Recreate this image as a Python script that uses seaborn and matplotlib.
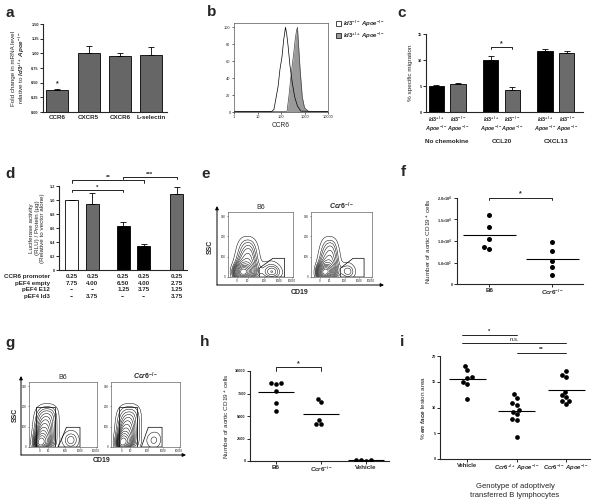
import numpy as np
import pandas as pd
import matplotlib
matplotlib.use("Agg")
import matplotlib.pyplot as plt
import seaborn as sns
from matplotlib.patches import Polygon, Patch

sns.set_style("ticks")
plt.rcParams['font.family'] = ['Liberation Sans', 'DejaVu Sans']
plt.rcParams['font.weight'] = 'bold'
plt.rcParams['mathtext.fontset'] = 'custom'
plt.rcParams['mathtext.rm'] = 'Liberation Sans:bold'
plt.rcParams['mathtext.it'] = 'Liberation Sans:italic:bold'
plt.rcParams['mathtext.bf'] = 'Liberation Sans:bold'
plt.rcParams['axes.linewidth'] = 0.8

W, H = 600, 504

# ---- data ----
# a: qPCR
a_genes = ["CCR6", "CXCR5", "CXCR6", "L-selectin"]
a_fold = [0.37, 1.01, 0.96, 0.98]
a_sem = [0.03, 0.12, 0.05, 0.13]

# b: flow histogram (CCR6)
b_x_ko = [1, 40, 50, 60, 75, 90, 110, 130, 155, 175, 200, 240, 300, 380, 500, 700, 10000]
b_y_ko = [0.5, 0.5, 3, 15, 30, 50, 65, 85, 100, 92, 78, 55, 35, 18, 7, 1, 0.5]
b_x_wt = [1, 180, 220, 260, 300, 350, 400, 450, 500, 560, 650, 800, 1000, 1500, 10000]
b_y_wt = [0.5, 0.5, 20, 40, 55, 70, 85, 95, 100, 78, 50, 18, 5, 0.5, 0.5]

# c: migration
c_groups = ["No chemokine", "CCL20", "CXCL13"]
c_wt = [5.0, 10.0, 11.8]
c_ko = [5.3, 4.3, 11.4]
c_wt_sem = [0.25, 0.8, 0.35]
c_ko_sem = [0.25, 0.45, 0.35]

# d: luciferase
d_luc = [1.0, 0.95, 0.63, 0.35, 1.08]
d_sem = [0.0, 0.15, 0.05, 0.02, 0.11]
d_colors = ["white", "#6b6b6b", "black", "black", "#6b6b6b"]
d_rows = ["CCR6 promoter", "pEF4 empty", "pEF4 E12", "pEF4 Id3"]
d_table = [["0.25", "0.25", "0.25", "0.25", "0.25"],
           ["7.75", "4.00", "6.50", "4.00", "2.75"],
           ["--", "--", "1.25", "3.75", "1.25"],
           ["--", "3.75", "--", "--", "3.75"]]

# flow event densities (CD19 channel 0..1, SSC)
# main (non-B) population: cols u = 0.04, 0.09 .. 0.54 ; rows SSC = 200, 180 .. 0
main_u = np.linspace(0.04, 0.54, 11)
main_ssc = np.arange(200, -1, -20)
e_main = [[0, 0, 0, 0.1, 0.2, 0.2, 0.2, 0.1, 0, 0, 0],
          [0, 0, 0, 0.3, 0.5, 0.6, 0.6, 0.4, 0.1, 0, 0],
          [0, 0, 0.1, 0.5, 0.8, 1.0, 1.0, 0.7, 0.2, 0, 0],
          [0, 0, 0.2, 0.7, 1.0, 1.3, 1.3, 0.9, 0.3, 0.1, 0],
          [0, 0, 0.3, 0.9, 1.3, 1.6, 1.6, 1.1, 0.4, 0.1, 0],
          [0, 0.1, 0.4, 1.1, 1.6, 1.9, 1.8, 1.2, 0.5, 0.2, 0],
          [0, 0.1, 0.6, 1.5, 2.0, 2.2, 2.0, 1.4, 0.6, 0.2, 0],
          [0, 0.2, 1.0, 2.5, 3.0, 3.0, 2.5, 1.6, 0.7, 0.3, 0.1],
          [0, 0.4, 3.0, 6.0, 7.0, 6.0, 4.0, 2.0, 0.8, 0.3, 0.1],
          [0, 0.5, 4.0, 8.0, 9.0, 7.0, 4.0, 2.0, 0.8, 0.3, 0.1],
          [0, 0.3, 2.0, 4.0, 4.0, 3.0, 2.0, 1.0, 0.4, 0.2, 0]]
g_main = [[0, 0, 0.2, 0.4, 0.5, 0.5, 0.4, 0.2, 0, 0, 0],
          [0, 0.1, 0.6, 1.0, 1.2, 1.2, 1.0, 0.5, 0.1, 0, 0],
          [0, 0.2, 1.0, 1.5, 1.7, 1.7, 1.4, 0.7, 0.1, 0, 0],
          [0, 0.3, 1.3, 1.9, 2.1, 2.0, 1.6, 0.8, 0.1, 0, 0],
          [0, 0.4, 1.6, 2.3, 2.4, 2.2, 1.7, 0.8, 0.1, 0, 0],
          [0, 0.5, 2.0, 2.7, 2.7, 2.4, 1.8, 0.8, 0.1, 0, 0],
          [0, 0.6, 2.5, 3.2, 3.0, 2.6, 1.8, 0.8, 0.1, 0, 0],
          [0, 0.8, 3.5, 4.0, 3.5, 2.8, 1.8, 0.8, 0.1, 0, 0],
          [0, 1.2, 5.5, 5.5, 4.5, 3.0, 1.8, 0.8, 0.1, 0, 0],
          [0, 1.5, 8.0, 7.0, 5.0, 3.0, 1.6, 0.7, 0.1, 0, 0],
          [0, 1.0, 5.0, 4.0, 3.0, 1.8, 1.0, 0.4, 0.1, 0, 0]]
# B-cell population: cols u = 0.5, 0.55 .. 0.9 ; rows SSC = 100, 80 .. 0
bc_u = np.linspace(0.5, 0.9, 9)
bc_ssc = np.arange(100, -1, -20)
e_bc_b6 = [[0, 0, 0, 0, 0, 0, 0, 0, 0],
           [0, 0.1, 0.2, 0.2, 0.2, 0.1, 0, 0, 0],
           [0.1, 0.2, 0.4, 0.5, 0.5, 0.3, 0.1, 0, 0],
           [0.2, 0.4, 0.9, 1.3, 1.3, 0.8, 0.3, 0.1, 0],
           [0.2, 0.5, 1.1, 1.6, 1.6, 1.1, 0.5, 0.1, 0],
           [0, 0.2, 0.5, 0.6, 0.6, 0.4, 0.2, 0, 0]]
e_bc_ko = [[0, 0, 0, 0, 0, 0, 0, 0, 0],
           [0, 0.1, 0.1, 0.1, 0, 0, 0, 0, 0],
           [0.1, 0.3, 0.4, 0.3, 0.1, 0, 0, 0, 0],
           [0.3, 0.8, 1.1, 0.9, 0.4, 0.1, 0, 0, 0],
           [0.3, 0.9, 1.3, 1.1, 0.5, 0.1, 0, 0, 0],
           [0.1, 0.3, 0.5, 0.4, 0.2, 0, 0, 0, 0]]
g_bc_b6 = [[0, 0, 0, 0, 0, 0, 0, 0, 0],
           [0, 0.1, 0.2, 0.2, 0.1, 0, 0, 0, 0],
           [0.1, 0.4, 0.7, 0.6, 0.3, 0, 0, 0, 0],
           [0.2, 0.9, 1.6, 1.4, 0.6, 0.1, 0, 0, 0],
           [0.2, 0.8, 1.3, 1.1, 0.4, 0.1, 0, 0, 0],
           [0, 0.2, 0.4, 0.4, 0.1, 0, 0, 0, 0]]
g_bc_ko = [[0, 0, 0, 0, 0, 0, 0, 0, 0],
           [0, 0, 0.1, 0.1, 0.1, 0, 0, 0, 0],
           [0, 0.2, 0.4, 0.4, 0.2, 0, 0, 0, 0],
           [0.1, 0.5, 0.9, 0.9, 0.4, 0.1, 0, 0, 0],
           [0.1, 0.4, 0.8, 0.7, 0.3, 0, 0, 0, 0],
           [0, 0.1, 0.3, 0.2, 0.1, 0, 0, 0, 0]]
flow_xticks = ["0", "10", "100", "1000", "10000"]

# f: aortic CD19+ cells
f_b6 = [15950, 13230, 10350, 8250, 8720]
f_ko = [9730, 7700, 5370, 3970, 2100]

# h: aortic CD19+ cells, transfer
h_b6 = [8620, 8600, 8640, 7810, 6470, 5610]
h_ko = [6910, 6540, 4610, 4130, 4130]
h_veh = [80, 60, 50, 90]

# i: en face lesion area
i_veh = [18.1, 17.3, 15.9, 15.7, 15.0, 14.6, 11.6]
i_wt = [12.6, 11.9, 10.8, 10.5, 9.2, 9.5, 8.7, 7.8, 7.5, 4.2]
i_ko = [17.0, 16.4, 15.9, 12.4, 13.0, 12.1, 11.3, 11.2, 10.6]


def box(l, t, r, b):
    return [l / W, 1 - b / H, (r - l) / W, (b - t) / H]


def bracket(ax, x1, x2, y, h, text, fs=5):
    ax.plot([x1, x1, x2, x2], [y - h, y, y, y - h], color='black', lw=0.6, clip_on=False)
    ax.text((x1 + x2) / 2, y, text, ha='center', va='bottom', fontsize=fs, clip_on=False)


def prism(ax, lab=2.8):
    sns.despine(ax=ax)
    ax.set_facecolor('none')
    ax.tick_params(labelsize=lab, width=0.7, length=2, pad=1)


fig = plt.figure(figsize=(6, 5.04), dpi=100)
ov = fig.add_axes([0, 0, 1, 1])
ov.set_xlim(0, W)
ov.set_ylim(H, 0)
ov.axis('off')

for letter, (lx, ly) in zip("abcdefghi", [(10, 13), (212, 12), (402, 13), (10, 174), (206, 174),
                                            (403, 172), (10, 343), (205, 342), (402, 342)]):
    ov.text(lx, ly, letter, fontsize=11, ha='center', va='center')

# ---- a ----
ax = fig.add_axes(box(43, 24, 167, 112))
sns.barplot(x=a_genes, y=a_fold, color="#666666", edgecolor="black", linewidth=0.6,
            width=0.7, ax=ax)
ax.errorbar(range(len(a_fold)), a_fold, yerr=[np.zeros(len(a_sem)), a_sem], fmt='none',
            ecolor='black', elinewidth=0.6, capsize=2.5, capthick=0.6)
ax.text(0, a_fold[0] + a_sem[0] + 0.02, "*", ha='center', va='bottom', fontsize=5)
ax.set_xlim(-0.45, 3.5)
ax.set_ylim(0, 1.5)
ax.set_yticks([0, 0.25, 0.5, 0.75, 1.0, 1.25, 1.5])
ax.set_yticklabels(["0.00", "0.25", "0.50", "0.75", "1.00", "1.25", "1.50"])
prism(ax)
ax.tick_params(axis='x', labelsize=4.5, length=0, pad=2)
ax.set_ylabel("Fold change in mRNA level\nrelative to $\\mathit{Id3}^{+/+}\\ \\mathit{Apoe}^{-/-}$",
              fontsize=4.5, labelpad=3, linespacing=1.1)

# ---- b ----
ax = fig.add_axes(box(234, 23, 328, 112))
ax.set_xscale('log')
ax.fill_between(b_x_wt, b_y_wt, color="#9a9a9a", lw=0)
sns.lineplot(x=b_x_wt, y=b_y_wt, color="#444444", lw=0.5, ax=ax)
sns.lineplot(x=b_x_ko, y=b_y_ko, color="black", lw=0.5, ax=ax)
ax.set_xlim(1, 10000)
ax.set_ylim(0, 105)
ax.set_yticks([0, 20, 40, 60, 80, 100])
ax.set_xticks([1, 10, 100, 1000, 10000])
ax.set_xticklabels(["1", "10", "100", "1000", "10000"])
ax.minorticks_off()
ax.set_facecolor('none')
for s in ax.spines.values():
    s.set_linewidth(0.5)
    s.set_color("#555555")
ax.tick_params(labelsize=2.8, width=0.5, length=1.5, pad=1)
for t in ax.get_xticklabels() + ax.get_yticklabels():
    t.set_fontweight('normal')
ax.set_xlabel("CCR6", fontsize=4.8, labelpad=2)
ax.legend(handles=[Patch(facecolor='white', edgecolor='black', lw=0.5,
                         label="$\\mathit{Id3}^{-/-}\\ \\mathit{Apoe}^{-/-}$"),
                   Patch(facecolor='#9a9a9a', edgecolor='black', lw=0.5,
                         label="$\\mathit{Id3}^{+/+}\\ \\mathit{Apoe}^{-/-}$")],
          loc='upper left', bbox_to_anchor=(1.06, 1.08), frameon=False, fontsize=4.3,
          handlelength=0.8, handleheight=0.8, handletextpad=0.4, labelspacing=0.3,
          borderaxespad=0)

# ---- c ----
ax = fig.add_axes(box(426, 34, 583, 112))
c_df = pd.DataFrame({"group": c_groups * 2,
                     "geno": ["wt"] * 3 + ["ko"] * 3,
                     "pct": c_wt + c_ko})
sns.barplot(data=c_df, x="group", y="pct", hue="geno", hue_order=["wt", "ko"],
            palette=["black", "#6b6b6b"], width=0.8, gap=0.3, edgecolor="black",
            linewidth=0.6, errorbar=None, legend=False, ax=ax)
bars = sorted(ax.patches, key=lambda p: p.get_x())
c_vals = [v for pair in zip(c_wt, c_ko) for v in pair]
c_errs = [v for pair in zip(c_wt_sem, c_ko_sem) for v in pair]
c_pos = [p.get_x() + p.get_width() / 2 for p in bars]
ax.errorbar(c_pos, c_vals, yerr=[np.zeros(len(c_errs)), c_errs], fmt='none', ecolor='black',
            elinewidth=0.6, capsize=2.5, capthick=0.6)
ax.set_xlim(-0.39, 2.5)
ax.set_ylim(0, 15)
ax.set_yticks([0, 5, 10, 15])
prism(ax)
ax.set_xlabel("")
ax.set_xticks(c_pos)
ax.set_xticklabels(["$\\mathit{Id3}^{+/+}$\n$\\mathit{Apoe}^{-/-}$",
                    "$\\mathit{Id3}^{-/-}$\n$\\mathit{Apoe}^{-/-}$"] * 3,
                   fontsize=4.0, linespacing=1.0)
ax.tick_params(axis='x', length=0, pad=2)
for i, g in enumerate(c_groups):
    ax.text(i, -0.38, g, transform=ax.get_xaxis_transform(), ha='center', va='center',
            fontsize=4.6)
ax.set_ylabel("% specific migration", fontsize=4.6, labelpad=3)
bracket(ax, c_pos[2], c_pos[3], 12.5, 0.4, "*", fs=5)

# ---- d ----
ax = fig.add_axes(box(59, 186, 187, 270))
d_pos = [0, 1, 2.5, 3.5, 5.1]
ax.bar(d_pos, d_luc, width=0.63, color=d_colors, edgecolor='black', linewidth=0.6)
ax.errorbar(d_pos, d_luc, yerr=[np.zeros(len(d_sem)), d_sem], fmt='none', ecolor='black',
            elinewidth=0.6, capsize=2.5, capthick=0.6)
ax.set_xlim(-0.63, 5.6)
ax.set_ylim(0, 1.2)
ax.set_yticks([0, 0.2, 0.4, 0.6, 0.8, 1.0, 1.2])
ax.set_yticklabels(["0", "0.2", "0.4", "0.6", "0.8", "1.0", "1.2"])
prism(ax)
ax.set_xticks([])
ax.set_ylabel("Luciferase activity\n(RLU) / Protein (\u00b5g)\n(Relative to vector alone)",
              fontsize=4.5, labelpad=3, linespacing=1.1)
tr = ax.get_xaxis_transform()
for r, (row, vals) in enumerate(zip(d_rows, d_table)):
    yy = -0.075 - 0.08 * r
    ax.text(-0.07, yy, row, transform=ax.transAxes, ha='right', va='center', fontsize=4.5)
    for x, v in zip(d_pos, vals):
        ax.text(x, yy, v, transform=tr, ha='center', va='center', fontsize=4.5)
bracket(ax, d_pos[0], d_pos[2], 1.14, 0.03, "*", fs=4.5)
bracket(ax, d_pos[0], d_pos[3], 1.28, 0.03, "**", fs=4.5)
bracket(ax, d_pos[2], d_pos[4], 1.33, 0.03, "***", fs=4.5)


# ---- flow contour plots (e, g) ----
def flow(rect, main, bcell, title, gates, tick_u):
    ax = fig.add_axes(box(*rect))
    mu, ms = np.meshgrid(main_u, main_ssc)
    bu, bs = np.meshgrid(bc_u, bc_ssc)
    xs = np.concatenate([mu.ravel(), bu.ravel()])
    ys = np.concatenate([ms.ravel(), bs.ravel()])
    ws = np.concatenate([np.ravel(main), np.ravel(bcell)])
    sns.kdeplot(x=xs, y=ys, weights=ws, levels=14, thresh=0.04, color='black',
                linewidths=0.35, bw_adjust=0.6, ax=ax)
    for gate in gates:
        ax.add_patch(Polygon(gate, closed=True, fill=False, edgecolor='black', lw=0.5))
    ax.set_xlim(0, 1)
    ax.set_ylim(0, 320)
    ax.set_xticks(tick_u)
    ax.set_xticklabels(flow_xticks)
    ax.set_yticks([0, 100, 200, 300])
    ax.set_xlabel("")
    ax.set_ylabel("")
    ax.set_facecolor('none')
    for s in ax.spines.values():
        s.set_linewidth(0.5)
        s.set_color("#666666")
    ax.tick_params(labelsize=2.2, width=0.4, length=1, pad=0.5)
    for t in ax.get_xticklabels() + ax.get_yticklabels():
        t.set_fontweight('normal')
    ax.set_title(title, fontsize=5, pad=2)
    return ax


e_tu = [0.14, 0.30, 0.55, 0.78, 0.98]
g_tu = [0.15, 0.28, 0.53, 0.75, 0.98]
flow((228, 212, 293, 277), e_main, e_bc_b6, "B6",
     [[(0.48, 0), (0.48, 43), (0.69, 92), (0.87, 92), (0.87, 0)]], e_tu)
flow((311, 212, 372, 277), e_main, e_bc_ko, "$\\mathit{Ccr6}^{-/-}$",
     [[(0.48, 0), (0.48, 43), (0.69, 92), (0.87, 92), (0.87, 0)]], e_tu)
flow((29, 382, 97, 447), g_main, g_bc_b6, "B6",
     [[(0.11, 0), (0.11, 195), (0.38, 195), (0.38, 0)],
      [(0.43, 0), (0.55, 97), (0.75, 97), (0.75, 0)]], g_tu)
flow((111, 382, 180, 447), g_main, g_bc_ko, "$\\mathit{Ccr6}^{-/-}$",
     [[(0.11, 0), (0.11, 198), (0.37, 198), (0.37, 0)],
      [(0.44, 0), (0.54, 97), (0.74, 97), (0.74, 0)]], g_tu)

arrow = dict(arrowstyle='-|>', lw=0.7, color='black', mutation_scale=5, shrinkA=0, shrinkB=0)
for x0, y0, ytop, xend in [(217, 285, 206, 384), (21, 455, 376, 186)]:
    ov.annotate("", xy=(x0, ytop), xytext=(x0, y0), arrowprops=arrow)
    ov.annotate("", xy=(xend, y0), xytext=(x0, y0), arrowprops=arrow)
ov.text(210, 247, "SSC", rotation=90, ha='center', va='center', fontsize=5)
ov.text(300, 292, "CD19", ha='center', va='center', fontsize=5)
ov.text(15, 415, "SSC", rotation=90, ha='center', va='center', fontsize=5)
ov.text(102, 461, "CD19", ha='center', va='center', fontsize=5)


# ---- dot plots (f, h, i) ----
def dots(rect, groups, values, xlim, ylim, half=0.42, size=3.6):
    ax = fig.add_axes(box(*rect))
    df = pd.DataFrame({"grp": [g for g, v in zip(groups, values) for _ in v],
                       "val": [x for v in values for x in v]})
    sns.swarmplot(data=df, x="grp", y="val", order=groups, color='black', size=size, ax=ax)
    for k, v in enumerate(values):
        ax.hlines(np.mean(v), k - half, k + half, color='black', lw=0.8)
    ax.set_xlim(*xlim)
    ax.set_ylim(*ylim)
    ax.set_xlabel("")
    prism(ax, lab=2.8)
    ax.tick_params(axis='x', labelsize=4.5)
    return ax


ax = dots((457, 198, 583, 284), ["B6", "$\\mathit{Ccr6}^{-/-}$"], [f_b6, f_ko],
          (-0.51, 1.49), (0, 20000))
ax.set_yticks([0, 5000, 10000, 15000, 20000])
ax.set_yticklabels(["0", "$5.0{\\times}10^3$", "$1.0{\\times}10^4$", "$1.5{\\times}10^4$",
                    "$2.0{\\times}10^4$"])
ax.set_ylabel("Number of aortic CD19$^+$ cells", fontsize=4.6, labelpad=3)
bracket(ax, 0, 1, 20100, 500, "*", fs=5)

ax = dots((250, 371, 389, 461), ["B6", "$\\mathit{Ccr6}^{-/-}$", "Vehicle"],
          [h_b6, h_ko, h_veh], (-0.58, 2.51), (0, 10000), half=0.4, size=3.3)
ax.set_yticks([0, 2500, 5000, 7500, 10000])
ax.set_ylabel("Number of aortic CD19$^+$ cells", fontsize=4.6, labelpad=3)
bracket(ax, 0, 1, 10450, 450, "*", fs=5)

ax = dots((440, 356, 590, 459), ["Vehicle", "$\\mathit{Ccr6}^{+/+}\\ \\mathit{Apoe}^{-/-}$",
                                 "$\\mathit{Ccr6}^{-/-}\\ \\mathit{Apoe}^{-/-}$"],
          [i_veh, i_wt, i_ko], (-0.55, 2.48), (0, 20), half=0.37, size=3.4)
ax.tick_params(axis='x', labelsize=4.2)
ax.set_yticks([0, 5, 10, 15, 20])
ax.set_ylabel("% $\\mathit{en\\ face}$ lesion area", fontsize=4.6, labelpad=3)
ax.set_xlabel("Genotype of adoptively\ntransferred B lymphocytes", fontsize=5.5, labelpad=7,
              linespacing=1.3)
for x1, x2, y, txt in [(-0.1, 1.0, 24.1, "*"), (-0.1, 2.0, 22.5, "n.s."), (1.0, 2.0, 20.6, "**")]:
    ax.plot([x1, x2], [y, y], color='black', lw=0.6, clip_on=False)
    ax.text((x1 + x2) / 2, y + 0.2, txt, ha='center', va='bottom', fontsize=4.3,
            fontweight='normal' if txt == "n.s." else 'bold', clip_on=False)

fig.savefig("out.png", dpi=100)
